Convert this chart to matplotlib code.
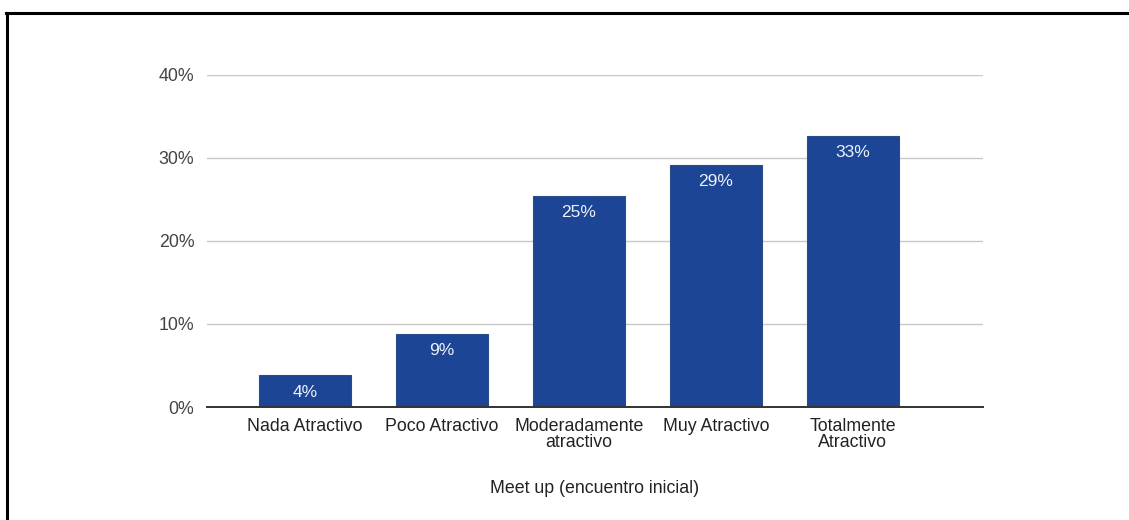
import numpy as np
import matplotlib.pyplot as plt

plt.rcParams['font.family'] = ['Liberation Sans', 'DejaVu Sans']

categorias = ['Nada Atractivo', 'Poco Atractivo', 'Moderadamente\natractivo',
              'Muy Atractivo', 'Totalmente\nAtractivo']
porcentajes = [3.8, 8.8, 25.4, 29.2, 32.7]
ticks_y = [0, 10, 20, 30, 40]

fig = plt.figure(figsize=(11.29, 5.2), dpi=100)
ax = fig.add_axes([0.1833, 0.2173, 0.6874, 0.6385])

x = np.arange(len(categorias))
barras = ax.bar(x, porcentajes, width=0.67, color='#1c4595',
                edgecolor='#2b4c8c', linewidth=0.8, zorder=3)

for b, v in zip(barras, porcentajes):
    ax.annotate(f'{round(v)}%', (b.get_x() + b.get_width() / 2, v),
                xytext=(0, -12), textcoords='offset points',
                ha='center', va='center', color='#eef3fb', fontsize=12.5,
                zorder=4)

ax.set_xlim(-0.715, 4.95)
ax.set_ylim(0, 40)
ax.set_yticks(ticks_y)
ax.set_yticklabels([f'{t}%' for t in ticks_y])
ax.set_xticks(x)
ax.set_xticklabels(categorias, linespacing=0.9)

ax.grid(axis='y', color='#c8c8c8', linewidth=1.0, zorder=0)
for s in ['top', 'right', 'left']:
    ax.spines[s].set_visible(False)
ax.spines['bottom'].set_color('#333333')
ax.spines['bottom'].set_linewidth(1.4)
ax.spines['bottom'].set_zorder(5)
ax.tick_params(axis='y', length=0, pad=9, labelsize=12.8, labelcolor='#444444')
ax.tick_params(axis='x', length=0, pad=8, labelsize=12.8, labelcolor='#222222')

ax.set_xlabel('Meet up (encuentro inicial)', fontsize=12.8, color='#222222',
              labelpad=21)

# marco exterior (arriba e izquierda)
fig.add_artist(plt.Line2D([0.0055, 1.0], [1 - 13 / 520, 1 - 13 / 520],
                          color='black', linewidth=2.2, transform=fig.transFigure))
fig.add_artist(plt.Line2D([0.0062, 0.0062], [0.0, 1 - 13 / 520],
                          color='black', linewidth=2.2, transform=fig.transFigure))

fig.savefig('out.png', dpi=100)
